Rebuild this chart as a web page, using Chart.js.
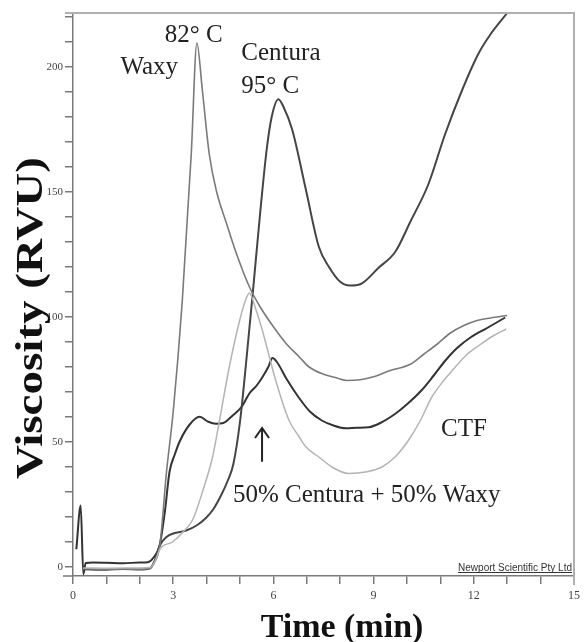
<!DOCTYPE html>
<html><head><meta charset="utf-8">
<script src="https://cdn.jsdelivr.net/npm/chart.js@4/dist/chart.umd.min.js"></script>
<style>html,body{margin:0;padding:0;background:#fff;}canvas{display:block;}</style>
</head><body>
<canvas id="c" width="585" height="642"></canvas>
<script>
// ---- data (time in min, viscosity in RVU) ----
const waxyTime = [0.3,1.0,1.5,2.0,2.3,2.45,2.6,2.8,3.0,3.27,3.54,3.71,3.87,4.08,4.3,4.58,4.9,5.28,5.6,6.0,6.4,6.77,7.06,7.5,7.9,8.2,8.6,9.0,9.5,10.1,10.5,10.9,11.3,11.7,12.1,12.5,13.0];
const waxyVisc = [-0.8,-1.0,-0.9,-1.0,-0.6,2,8.5,38,62,106,165,209.5,191,165,150,138,125,112,104,96,89,84,80,77,75.5,74.5,74.8,76,78.5,81,85,89,93.5,96.5,98.5,99.5,100.5];

const centuraTime = [0.3,1.0,1.5,2.0,2.3,2.45,2.6,2.79,3.0,3.39,3.7,3.98,4.2,4.45,4.65,4.8,5.0,5.2,5.4,5.6,5.8,5.95,6.15,6.3,6.56,6.97,7.36,7.66,8.0,8.3,8.6,9.15,9.65,10.1,10.64,11.14,11.63,12.13,12.5,13.0];
const centuraVisc = [-1.0,-1.2,-0.9,-1.1,-0.7,2.5,8.5,11.8,13.3,14.5,16.5,19.5,23,29,35,41,58,84,112,141,167,180,187,184,175,151,128,120,114,112.5,113,119.6,126,138,153,173,190,205,213,221.5];

const ctfTime = [0.1,0.23,0.31,0.38,0.6,1.0,1.5,2.0,2.24,2.4,2.6,2.75,2.89,3.05,3.19,3.5,3.79,4.05,4.28,4.5,4.78,5.05,5.28,5.5,5.67,5.85,5.97,6.1,6.4,6.77,7.1,7.45,7.8,8.17,8.5,8.85,9.2,9.66,10.0,10.43,10.8,11.15,11.5,11.9,12.4,12.94];
const ctfVisc = [7,24.5,-3,1.5,1.7,1.6,1.4,1.7,1.8,3.5,9,22,38,45,50,57,60,58,57.2,57.5,60.5,64,69.3,72.5,75.8,80,83.5,82,75,67.5,62,58.5,56.5,55.4,55.6,55.8,57.5,61.3,65,70.5,76.5,82.5,87.5,91.7,95.5,99.7];

const blendTime = [0.3,1.0,2.0,2.3,2.45,2.6,2.99,3.3,3.59,3.9,4.18,4.38,4.68,4.98,5.15,5.28,5.45,5.67,6.07,6.47,6.77,6.97,7.36,7.8,8.26,8.8,9.25,9.65,10.04,10.4,10.74,11.1,11.44,11.8,12.23,12.6,12.97];
const blendVisc = [-0.5,-0.6,-0.5,-0.3,2,7,10,14,19,31,44,58,80,98,106,109.5,104,94.5,74.5,58.5,52,48,43.9,39.5,37.3,38,39.9,44,50.5,58.5,67.8,74.5,79.8,85,89.2,92.5,95.1];

const xTickLabels = [0,3,6,9,12,15];
const yTickLabels = [0,50,100,150,200];

const noteTexts = ['82° C','Waxy','Centura','95° C','CTF','50% Centura + 50% Waxy'];
const noteX = [2.75,1.42,5.04,5.04,11.02,4.79];
const noteY = [210,197,202.7,189.4,52.3,26];
const arrowX = 5.66, arrowFrom = 42, arrowTo = 55.5;

function pts(t, v){ return t.map((x,i)=>({x:x,y:v[i]})); }

const overlay = {
  id:'overlay',
  afterDraw(chart){
    const ctx = chart.ctx, xs = chart.scales.x, ys = chart.scales.y, ca = chart.chartArea;
    ctx.save();
    // top & right frame
    ctx.strokeStyle = '#b0b0b0'; ctx.lineWidth = 2;
    ctx.beginPath(); ctx.moveTo(65, ca.top); ctx.lineTo(ca.right, ca.top); ctx.lineTo(ca.right, ca.bottom + 9); ctx.stroke();
    // bottom axis stub left of y axis
    ctx.strokeStyle = '#7a7a7a'; ctx.lineWidth = 1.5;
    ctx.beginPath(); ctx.moveTo(63, ca.bottom); ctx.lineTo(ca.left, ca.bottom); ctx.stroke();
    // annotations
    ctx.fillStyle = '#222';
    ctx.font = '25px "Liberation Serif", "Times New Roman", serif';
    ctx.textAlign = 'left'; ctx.textBaseline = 'alphabetic';
    noteTexts.forEach((t,i)=>{
      ctx.fillText(t, xs.getPixelForValue(noteX[i]), ys.getPixelForValue(noteY[i]));
    });
    // arrow
    const ax = xs.getPixelForValue(arrowX), ay0 = ys.getPixelForValue(arrowFrom), ay1 = ys.getPixelForValue(arrowTo);
    ctx.strokeStyle = '#222'; ctx.lineWidth = 2;
    ctx.beginPath(); ctx.moveTo(ax, ay0); ctx.lineTo(ax, ay1 + 1); ctx.stroke();
    ctx.beginPath(); ctx.moveTo(ax - 7, ay1 + 10); ctx.lineTo(ax, ay1); ctx.lineTo(ax + 7, ay1 + 10); ctx.stroke();
    // Newport credit
    ctx.font = '10px "Liberation Sans", Arial, sans-serif';
    ctx.fillStyle = '#333'; ctx.textAlign = 'right';
    const credit = 'Newport Scientific Pty Ltd';
    const cx = ca.right - 2, cy = ca.bottom - 5;
    ctx.fillText(credit, cx, cy);
    const w = ctx.measureText(credit).width;
    ctx.lineWidth = 1; ctx.strokeStyle = '#333';
    ctx.beginPath(); ctx.moveTo(cx - w, cy + 1.5); ctx.lineTo(cx, cy + 1.5); ctx.stroke();
    // axis titles
    ctx.fillStyle = '#111';
    ctx.font = 'bold 34px "Liberation Serif", "Times New Roman", serif';
    ctx.textAlign = 'center';
    ctx.fillText('Time (min)', 342, 637);
    ctx.save();
    ctx.translate(42, 318);
    ctx.rotate(-Math.PI/2);
    ctx.font = 'bold 37px "Liberation Serif", "Times New Roman", serif';
    const yt = 'Viscosity (RVU)';
    const sw = 322 / ctx.measureText(yt).width;
    ctx.scale(sw, 1);
    ctx.fillText(yt, 0, 0);
    ctx.restore();
    ctx.restore();
  }
};

const ds = (label, t, v, color, width) => ({
  label, data: pts(t, v), borderColor: color, borderWidth: width,
  pointRadius: 0, fill: false, cubicInterpolationMode: 'monotone', tension: 0
});

new Chart(document.getElementById('c'), {
  type: 'line',
  data: { datasets: [
    ds('50% Centura + 50% Waxy', blendTime, blendVisc, '#b4b4b4', 1.5),
    ds('Waxy', waxyTime, waxyVisc, '#7a7a7a', 1.6),
    ds('Centura', centuraTime, centuraVisc, '#454545', 2),
    ds('CTF', ctfTime, ctfVisc, '#333333', 2)
  ]},
  options: {
    responsive: false, animation: false, devicePixelRatio: 1,
    layout: { padding: { top: 13, right: 10, left: 0, bottom: 0 } },
    plugins: { legend: { display: false }, tooltip: { enabled: false } },
    scales: {
      x: {
        type: 'linear', min: 0, max: 15,
        afterFit(s){ s.height = 66; },
        ticks: { stepSize: 1, includeBounds: false, autoSkip: false, maxRotation: 0, padding: 5,
          color: '#444', font: { family: '"Liberation Serif", serif', size: 12 },
          callback: v => xTickLabels.includes(v) ? String(v) : '' },
        grid: { drawOnChartArea: false, drawTicks: true, tickLength: 8, color: '#7a7a7a', lineWidth: 1.5 },
        border: { display: true, color: '#7a7a7a', width: 1.5 }
      },
      y: {
        type: 'linear', min: -3.7, max: 221.5,
        afterFit(s){ s.width = 73; },
        ticks: { stepSize: 10, includeBounds: false, autoSkip: false, padding: 2,
          color: '#444', font: { family: '"Liberation Serif", serif', size: 11 },
          callback: v => yTickLabels.includes(v) ? String(v) : '' },
        grid: { drawOnChartArea: false, drawTicks: true, tickLength: 8, color: '#7a7a7a', lineWidth: 1.5 },
        border: { display: true, color: '#7a7a7a', width: 1.5 }
      }
    }
  },
  plugins: [overlay]
});
</script>
</body></html>
